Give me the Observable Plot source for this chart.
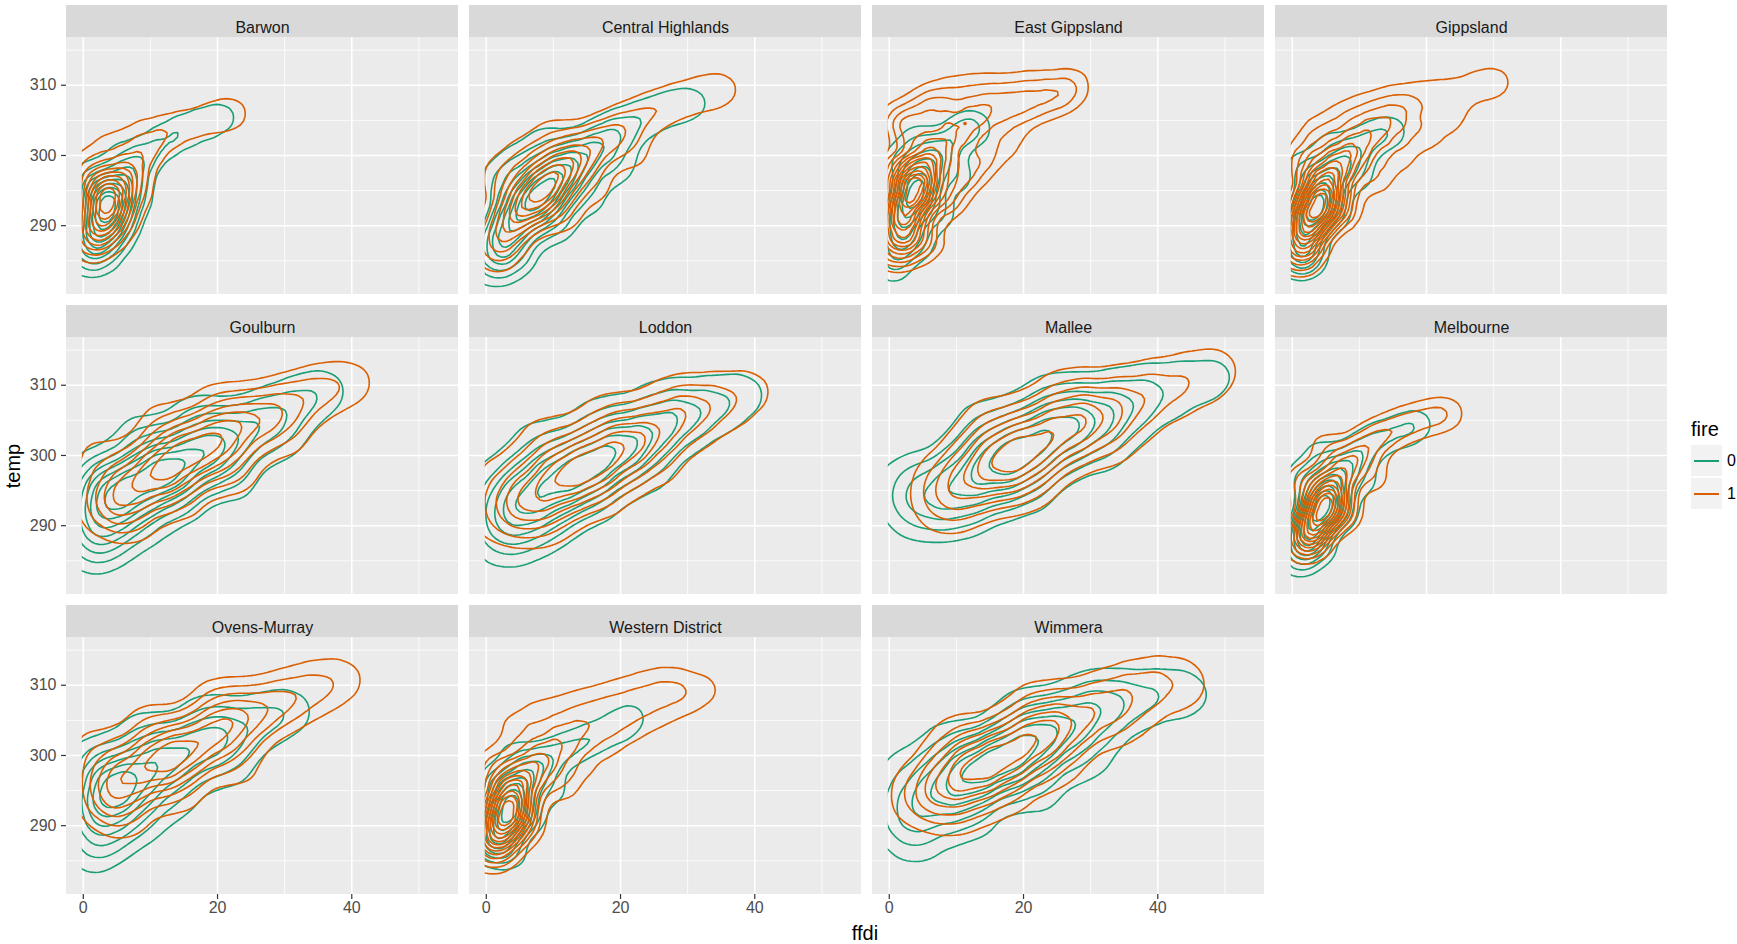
<!DOCTYPE html>
<html>
<head>
<meta charset="utf-8">
<script src="https://cdn.jsdelivr.net/npm/d3@7"></script>
<script src="https://cdn.jsdelivr.net/npm/@observablehq/plot@0.6"></script>
<style>
  body { margin: 0; background: #fff; font-family: "Liberation Sans", Arial, Helvetica, sans-serif; }
  #wrap { position: relative; width: 1737px; height: 944px; overflow: hidden; }
  #legend { position: absolute; left: 1691px; top: 418px; }
  .ltitle { position: absolute; left: 0; top: 0; font-size: 20px; color: #000; white-space: nowrap; }
  .lkey { position: absolute; left: 0; width: 31px; height: 31px; background: #f2f2f2; }
  .lkey span { position: absolute; left: 3px; right: 3px; top: 15px; height: 1.7px; }
  .llab { position: absolute; left: 36px; font-size: 16px; color: #000; line-height: 16px; }
</style>
</head>
<body>
<div id="wrap"></div>
<script>
// ---- categories / ticks ----
const regions = ["Barwon", "Central Highlands", "East Gippsland", "Gippsland", "Goulburn", "Loddon",
  "Mallee", "Melbourne", "Ovens-Murray", "Western District", "Wimmera"];
const fireLevels = ["0", "1"];
const xTicksMajor = [0, 20, 40];
const xTicksMinor = [10, 30, 50];
const yTicksMajor = [290, 300, 310];
const yTicksMinor = [285, 295, 305, 315];

// ---- estimated observations [ffdi, temp, weight] per region and fire ----
const barwon0 = [[3.5,292.5,1.0],[2,290,0.75],[5,295,0.7],[2,294.5,0.5],[5.5,290.5,0.45],[1,287.5,0.45],[4,288,0.35],[0.5,285,0.25],[3,285.5,0.18],[7,297.5,0.4],[1,297,0.25],[9,300,0.3],[8,294,0.25],[12,302,0.25],[15,303.5,0.22],[18,304.5,0.2],[21,305.5,0.2],[5,300,0.15]];
const barwon1 = [[3.5,293.5,1.0],[2,291,0.7],[5,296,0.7],[2,295.5,0.5],[5.5,291.5,0.4],[1.5,288.5,0.4],[4,289,0.3],[1,286.5,0.15],[7,298.5,0.4],[1,298.5,0.3],[9.5,301,0.3],[8,295,0.25],[4,301.5,0.2],[12.5,303.5,0.25],[16,304.5,0.2],[19.5,305.5,0.2],[22.5,306,0.22],[8,304,0.12]];
const centralHighlands0 = [[8.5,295,1.0],[6,292.5,0.85],[11,297.5,0.75],[3.5,290,0.65],[14,299.5,0.5],[1.5,287,0.45],[17,301.5,0.38],[1,284,0.25],[20,303.5,0.3],[24,305.5,0.22],[28,307,0.18],[31.5,307.5,0.15],[2,296,0.3],[5,299,0.25],[10,290.5,0.35],[15,294,0.25],[4.5,286,0.3],[9,302,0.2],[20,298,0.18]];
const centralHighlands1 = [[9,296,1.0],[6.5,293.5,0.85],[11.5,298.5,0.75],[4,291,0.6],[14.5,300.5,0.5],[2,288,0.4],[17.5,302.5,0.38],[21,304.5,0.3],[25,306.5,0.24],[29,308,0.2],[33,309,0.18],[36,309.5,0.14],[2.5,297,0.3],[6,300,0.25],[11,292,0.3],[16,295.5,0.22],[10,303,0.2],[22,300,0.18],[1.5,285.5,0.15]];
const eastGippsland0 = [[4,295,1.0],[2.5,292,0.8],[5.5,298,0.65],[1.5,289,0.5],[8,301,0.4],[1,286,0.3],[11,303.5,0.28],[0.5,283.5,0.15],[7,292,0.35],[10,297,0.25],[4,302,0.25],[13,304,0.18],[4.5,287.5,0.25],[1.5,299,0.3]];
const eastGippsland1 = [[3.5,295,1.0],[2,292,0.8],[5,298,0.7],[1.5,289,0.5],[7,301,0.45],[1,286.5,0.3],[10,303.5,0.3],[13,305.5,0.32],[3,303.5,0.3],[7,306,0.2],[17,306.5,0.22],[21,307,0.2],[25,308.5,0.2],[27.5,310,0.14],[14,300,0.2],[8,294,0.35],[11,297.5,0.3],[18,302,0.12],[5,288,0.3],[1,298,0.35],[1.5,305,0.18],[5.5,307.5,0.15],[9.5,309,0.14],[13.5,309.5,0.13],[17.5,309.5,0.12],[21.5,310,0.12]];
const gippsland0 = [[3.2,292.7,1.0],[2,290,0.8],[4.5,295.5,0.7],[1.2,287,0.5],[6.5,298,0.5],[0.8,284.5,0.25],[9,300.5,0.35],[12,302.5,0.25],[15,303.5,0.2],[6,292,0.35],[3,285.5,0.2],[1.5,298,0.3],[10,297,0.2],[5,302,0.15]];
const gippsland1 = [[3.7,293,1.0],[2.3,290.3,0.8],[5,296,0.75],[1.5,287.5,0.45],[7,299,0.55],[9.5,301.5,0.4],[12.5,303.5,0.3],[16,305,0.22],[2,299,0.3],[7,292.5,0.35],[12,297,0.2],[1,285.5,0.2],[4,303,0.2],[8,305.5,0.16],[12,307,0.14],[16,308,0.13],[20,308.5,0.13],[24,309,0.12],[28,310,0.12],[31,310.5,0.1],[16,300,0.14],[20,303,0.13],[24,305,0.11]];
const goulburn0 = [[13,298,1.0],[8,296,0.85],[4,294,0.65],[18,300.5,0.75],[23,303,0.55],[28,305.5,0.4],[33,308,0.25],[37,309.5,0.15],[1.5,291,0.45],[2,297,0.35],[3,288,0.3],[8,290.5,0.35],[14,293.5,0.3],[9,302,0.35],[17,305,0.3],[22,297,0.3],[1,286,0.15],[30,301.5,0.15]];
const goulburn1 = [[16,300.5,1.0],[11,298,0.85],[21,303,0.8],[6.5,295.5,0.6],[26,305.5,0.6],[31,307.5,0.4],[36,309.5,0.3],[41,310.5,0.18],[3,293,0.35],[2,300,0.2],[7,291,0.3],[14,294.5,0.35],[22,298,0.35],[12,304,0.3],[20,307,0.25],[30,302.5,0.2]];
const loddon0 = [[15,298.5,1.0],[10,296,0.85],[20,301,0.8],[5.5,293.5,0.6],[25,303.5,0.55],[30,305.5,0.4],[35,307.5,0.28],[40,309,0.15],[2,291,0.4],[1.5,297,0.2],[3,287.5,0.25],[9,290,0.3],[16,293.5,0.25],[24,297.5,0.2],[8,301.5,0.3],[17,305,0.25],[26,308,0.15]];
const loddon1 = [[16,299,1.0],[11,296.5,0.85],[21,301.5,0.8],[6.5,294,0.55],[26,304,0.55],[31,306,0.4],[36,308,0.28],[41,309.5,0.15],[2.5,291.5,0.35],[2,297,0.2],[9,290.5,0.25],[17,294.5,0.25],[25,298.5,0.2],[9,302,0.3],[18,305.5,0.25],[28,308.5,0.15]];
const mallee0 = [[20.5,301,1.0],[15.5,298.5,0.85],[25.5,303.5,0.8],[10.5,296,0.6],[30.5,305.5,0.55],[35.5,307.5,0.38],[40.5,309,0.25],[46,310.5,0.18],[51,311.5,0.14],[5,294.5,0.35],[2,296,0.2],[4,291.5,0.2],[11,292,0.25],[20,295.5,0.3],[14,304,0.3],[24,308,0.25],[32,301,0.2]];
const mallee1 = [[21.5,301.5,1.0],[16.5,299,0.85],[26.5,304,0.8],[12,297,0.55],[31.5,306,0.55],[36.5,308,0.4],[41.5,309.5,0.28],[46.5,311,0.2],[50,312.5,0.16],[8,295,0.35],[9,292.5,0.2],[20,296,0.3],[15,304.5,0.3],[26,309,0.22],[33,302,0.2]];
const melbourne0 = [[4.2,292.7,1.0],[2.8,290,0.8],[5.5,295.5,0.7],[1.5,287.5,0.5],[7.5,298,0.45],[1,285,0.25],[10,300.5,0.3],[13,302.5,0.24],[16.5,303.5,0.2],[19,304.5,0.16],[7,292,0.35],[1.5,296.5,0.3],[4,287,0.25],[4,300,0.2],[11,296,0.15]];
const melbourne1 = [[4.7,292.5,1.0],[3.2,289.8,0.8],[6,295.5,0.7],[2,287.5,0.4],[8,298.5,0.45],[10.5,301,0.35],[13.5,303,0.28],[17,304.5,0.24],[20.5,305.5,0.2],[23.5,306,0.16],[7.5,292,0.35],[2,296,0.3],[5,301,0.18],[12,297,0.18]];
const ovensMurray0 = [[4,295,1.0],[8,297,0.95],[13,299.5,0.85],[18,301.5,0.7],[23,303.5,0.5],[28,305.5,0.35],[32,306.5,0.2],[1.5,292,0.6],[2,299,0.45],[3,288.5,0.4],[8,291,0.45],[14,294,0.3],[1,285.5,0.2],[9,303,0.35],[18,306,0.25],[22,298,0.25]];
const ovensMurray1 = [[15.5,301,1.0],[11,299,0.85],[20.5,303.5,0.8],[6.5,297,0.7],[25.5,306,0.6],[30.5,308,0.45],[35.5,310,0.3],[40,311,0.16],[3,294.5,0.45],[2,300.5,0.3],[6,291.5,0.3],[14,295,0.3],[23,298.5,0.25],[10,304,0.3],[20,307.5,0.3]];
const westernDistrict0 = [[3.2,292.3,1.0],[2,289.5,0.8],[4.5,295,0.7],[1,287,0.45],[6.5,297.5,0.5],[9,299.5,0.35],[12.5,301,0.28],[16,302.5,0.24],[19.5,304,0.22],[22,305.5,0.17],[6,291.5,0.4],[1.5,296,0.35],[4,286,0.2],[4,300,0.2],[10,295,0.2]];
const westernDistrict1 = [[2.7,292,1.0],[1.8,289.2,0.8],[4,294.8,0.75],[1,286.5,0.4],[6,297.5,0.5],[8.5,300,0.4],[11.5,302.5,0.3],[15,304.5,0.24],[19,306,0.19],[23,307.5,0.15],[27,309,0.12],[31,309.5,0.1],[34,309.5,0.08],[1.5,298,0.3],[5.5,290.5,0.35],[11,296,0.2],[4.5,303.5,0.18],[8,306,0.13],[12,307.5,0.1],[16,308.5,0.09],[20,309.5,0.09],[24,310.5,0.09],[28,311,0.08],[14,299,0.14],[18,301.5,0.12],[22,303.5,0.1],[26,305.5,0.09],[30,307,0.07]];
const wimmera0 = [[17,299.5,1.0],[12,297,0.85],[22,302,0.8],[7,294.5,0.55],[27,304.5,0.55],[32,306.5,0.38],[37,308,0.26],[42,309,0.18],[46,308.5,0.14],[2,292,0.35],[2,298,0.2],[4,288,0.25],[12,291,0.25],[22,295,0.25],[30,299,0.2],[9,301.5,0.25],[20,306,0.25],[30,309,0.15]];
const wimmera1 = [[17.5,300.3,1.0],[12.5,298,0.85],[22.5,302.8,0.8],[8,296,0.55],[27.5,305,0.55],[32.5,307.5,0.42],[37.5,309.5,0.3],[42,310.5,0.2],[45.5,310,0.14],[4,294,0.3],[10,292,0.25],[17,294.5,0.25],[25,298,0.2],[10,302.5,0.25],[22,307,0.25],[35,304,0.15]];

const samples = {
  "Barwon": [barwon0, barwon1],
  "Central Highlands": [centralHighlands0, centralHighlands1],
  "East Gippsland": [eastGippsland0, eastGippsland1],
  "Gippsland": [gippsland0, gippsland1],
  "Goulburn": [goulburn0, goulburn1],
  "Loddon": [loddon0, loddon1],
  "Mallee": [mallee0, mallee1],
  "Melbourne": [melbourne0, melbourne1],
  "Ovens-Murray": [ovensMurray0, ovensMurray1],
  "Western District": [westernDistrict0, westernDistrict1],
  "Wimmera": [wimmera0, wimmera1]
};

// ---- density estimation settings per fire level: kernel bandwidth (px) and contour count ----
const kde = {
  "Barwon": {bw: [12, 12], n: [11, 11]},
  "Central Highlands": {bw: [14, 14], n: [10, 10]},
  "East Gippsland": {bw: [11, 12.5], n: [9, 15]},
  "Gippsland": {bw: [11, 12.5], n: [10, 15]},
  "Goulburn": {bw: [18, 18], n: [9, 8]},
  "Loddon": {bw: [20, 20], n: [8, 8]},
  "Mallee": {bw: [22, 22], n: [8, 8]},
  "Melbourne": {bw: [11, 11], n: [11, 13]},
  "Ovens-Murray": {bw: [18, 18], n: [8, 8]},
  "Western District": {bw: [11, 13], n: [10, 14]},
  "Wimmera": {bw: [20, 20], n: [8, 8]}
};

const colors = ["#1b9e77", "#d95f02"];
const X0 = -2.5, X1 = 55.9, Y0 = 280.2, Y1 = 316.8;
const STRIP = 32;
const font = "Liberation Sans, Arial, Helvetica, sans-serif";

const panels = regions.map((name, i) => ({name, col: i % 4, row: Math.floor(i / 4)}));
const cross = (ticks) => panels.flatMap(p => ticks.map(v => ({...p, v})));

const marks = [];
// panel background and grid
marks.push(Plot.rect(panels, {fx: "col", fy: "row", x1: X0, x2: X1, y1: Y0, y2: Y1, fill: "#ebebeb"}));
marks.push(Plot.ruleX(cross(xTicksMinor), {fx: "col", fy: "row", x: "v", y1: Y0, y2: Y1, stroke: "#fff", strokeWidth: 0.8}));
marks.push(Plot.ruleY(cross(yTicksMinor), {fx: "col", fy: "row", y: "v", x1: X0, x2: X1, stroke: "#fff", strokeWidth: 0.8}));
marks.push(Plot.ruleX(cross(xTicksMajor), {fx: "col", fy: "row", x: "v", y1: Y0, y2: Y1, stroke: "#fff", strokeWidth: 1.6}));
marks.push(Plot.ruleY(cross(yTicksMajor), {fx: "col", fy: "row", y: "v", x1: X0, x2: X1, stroke: "#fff", strokeWidth: 1.6}));

// density contours: fire 0 first, fire 1 on top
const densityOrder = [];
fireLevels.forEach((fire, fi) => {
  panels.forEach(p => {
    const rows = samples[p.name][fi].map(([ffdi, temp, w]) => ({ffdi, temp, w, fire, col: p.col, row: p.row}));
    densityOrder.push(p);
    marks.push(Plot.density(rows, {
      x: "ffdi", y: "temp", weight: "w", fx: "col", fy: "row", stroke: "fire",
      bandwidth: kde[p.name].bw[fi], thresholds: kde[p.name].n[fi], strokeWidth: 1.6
    }));
  });
});

// strips
marks.push(Plot.rect(panels, {fx: "col", fy: "row", x1: X0, x2: X1, y1: Y1, y2: Y1, insetTop: -STRIP, fill: "#d9d9d9"}));
marks.push(Plot.text(panels, {fx: "col", fy: "row", text: "name", frameAnchor: "top", dy: STRIP / 2,
  fontSize: 16, fill: "#1a1a1a", fontFamily: font}));

// y axis on the left column
const yAxisData = panels.filter(p => p.col === 0).flatMap(p => yTicksMajor.map(v => ({...p, v, label: String(v)})));
marks.push(Plot.ruleY(yAxisData, {fx: "col", fy: "row", y: "v", x1: X0, x2: X0, insetLeft: -5, stroke: "#333", strokeWidth: 1.2}));
marks.push(Plot.text(yAxisData, {fx: "col", fy: "row", y: "v", text: "label", frameAnchor: "left", dx: -10,
  textAnchor: "end", fontSize: 16, fill: "#4d4d4d", fontFamily: font}));
// x axis on the bottom row
const xAxisData = panels.filter(p => p.row === 2).flatMap(p => xTicksMajor.map(v => ({...p, v, label: String(v)})));
marks.push(Plot.ruleX(xAxisData, {fx: "col", fy: "row", x: "v", y1: Y0, y2: Y0, insetBottom: -5, stroke: "#333", strokeWidth: 1.2}));
marks.push(Plot.text(xAxisData, {fx: "col", fy: "row", x: "v", text: "label", frameAnchor: "bottom", dy: 18,
  fontSize: 16, fill: "#4d4d4d", fontFamily: font}));

const plot = Plot.plot({
  width: 1737, height: 944,
  marginLeft: 65, marginRight: 70, marginTop: 4, marginBottom: 49,
  style: {fontFamily: font, background: "#fff"},
  fx: {domain: [0, 1, 2, 3], paddingInner: 0.0275, paddingOuter: 0, axis: null},
  fy: {domain: [0, 1, 2], paddingInner: 0.037, paddingOuter: 0, axis: null},
  x: {domain: [X0, X1], axis: null},
  y: {domain: [Y0, Y1], insetTop: STRIP, axis: null},
  color: {domain: fireLevels, range: colors},
  marks
});

const NS = "http://www.w3.org/2000/svg";
function addText(str, x, y, rotate) {
  const t = document.createElementNS(NS, "text");
  t.textContent = str;
  t.setAttribute("x", x); t.setAttribute("y", y);
  t.setAttribute("text-anchor", "middle");
  t.setAttribute("dominant-baseline", "central");
  t.setAttribute("font-size", "20");
  t.setAttribute("fill", "#000");
  t.setAttribute("font-family", font);
  if (rotate) t.setAttribute("transform", `rotate(-90 ${x} ${y})`);
  plot.appendChild(t);
}
addText("ffdi", 865, 933, false);
addText("temp", 13, 466, true);

const wrap = document.getElementById("wrap");
wrap.appendChild(plot);

// clip each contour to its panel, starting at ffdi = 0 (the density grid starts at the data minimum)
(function clipContours() {
  const xs = plot.scale("x"), ys = plot.scale("y"), fxS = plot.scale("fx"), fyS = plot.scale("fy");
  const svgM = plot.getScreenCTM();
  const defs = document.createElementNS(NS, "defs");
  plot.insertBefore(defs, plot.firstChild);
  const made = new Map();
  let id = 0;
  plot.querySelectorAll('g[aria-label="density"]').forEach((g, mi) => {
    const p = densityOrder[mi];
    if (!p) return;
    const dx = fxS.apply(p.col) - fxS.apply(0), dy = fyS.apply(p.row) - fyS.apply(0);
    const ax0 = xs.apply(0) + dx, ax1 = xs.apply(X1) + dx;
    const ay0 = ys.apply(Y1) + dy, ay1 = ys.apply(Y0) + dy;
    g.querySelectorAll("path").forEach(path => {
      const m = path.getScreenCTM();
      const ox = m.e - svgM.e, oy = m.f - svgM.f;
      const key = [ax0 - ox, ay0 - oy].map(v => v.toFixed(2)).join(",");
      let cid = made.get(key);
      if (!cid) {
        cid = "kclip" + (id++);
        const cp = document.createElementNS(NS, "clipPath");
        cp.setAttribute("id", cid);
        const r = document.createElementNS(NS, "rect");
        r.setAttribute("x", ax0 - ox); r.setAttribute("y", ay0 - oy);
        r.setAttribute("width", ax1 - ax0); r.setAttribute("height", ay1 - ay0);
        cp.appendChild(r); defs.appendChild(cp);
        made.set(key, cid);
      }
      path.setAttribute("clip-path", `url(#${cid})`);
    });
  });
})();

// legend
const color = plot.scale("color");
const legend = document.createElement("div");
legend.id = "legend";
legend.innerHTML = `<div class="ltitle">fire</div>`;
fireLevels.forEach((f, i) => {
  const top = 27 + i * 33;
  legend.innerHTML += `<div class="lkey" style="top:${top}px"><span style="background:${color.apply(f)}"></span></div>` +
    `<div class="llab" style="top:${top + 8}px">${f}</div>`;
});
wrap.appendChild(legend);
</script>
</body>
</html>
